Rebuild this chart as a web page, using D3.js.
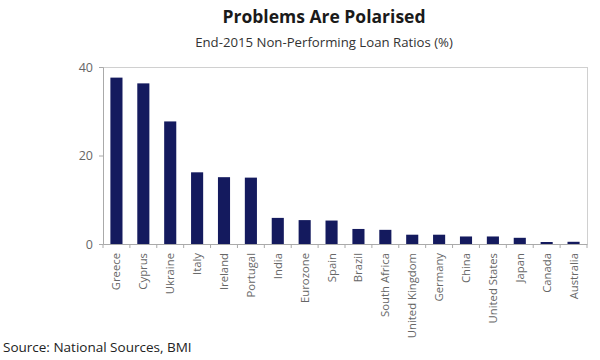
<!DOCTYPE html>
<html><head><meta charset="utf-8">
<script src="https://cdn.jsdelivr.net/npm/d3@7"></script>
<style>body{margin:0;background:#fff;} text{font-family:"Open Sans",sans-serif;}</style>
</head><body>
<svg id="c" width="600" height="360"></svg>
<script>
const categories = ["Greece","Cyprus","Ukraine","Italy","Ireland","Portugal","India","Eurozone","Spain","Brazil","South Africa","United Kingdom","Germany","China","United States","Japan","Canada","Australia"];
const values = [37.6,36.3,27.7,16.2,15.1,15.0,5.9,5.4,5.3,3.4,3.2,2.1,2.1,1.7,1.7,1.4,0.45,0.5];
const yTicks = [0,20,40];
const title = "Problems Are Polarised";
const subtitle = "End-2015 Non-Performing Loan Ratios (%)";
const source = "Source: National Sources, BMI";

const svg = d3.select("#c");
const L=103, R=587, T=67, B=244;
const x = d3.scaleBand().domain(categories).range([L,R]).paddingInner(0.55).paddingOuter(0.275);
const y = d3.scaleLinear().domain([0,40]).range([B,T]);

svg.append("text").attr("x",324).attr("y",23).attr("text-anchor","middle")
  .attr("font-size",17.5).attr("font-weight","bold").attr("fill","#1a1a1a").text(title);
svg.append("text").attr("x",324).attr("y",47).attr("text-anchor","middle")
  .attr("font-size",13.2).attr("fill","#333").text(subtitle);

// frame
svg.append("line").attr("x1",L).attr("x2",R).attr("y1",T+0.5).attr("y2",T+0.5).attr("stroke","#d0d0d0");
svg.append("line").attr("x1",R+0.5).attr("x2",R+0.5).attr("y1",T).attr("y2",B).attr("stroke","#d0d0d0");

svg.append("g").selectAll("rect").data(values).join("rect")
  .attr("x",(d,i)=>x(categories[i])).attr("width",x.bandwidth())
  .attr("y",d=>y(d)).attr("height",d=>B-y(d)).attr("fill","#141a5e");

const ya = svg.append("g").attr("transform",`translate(${L},0)`)
  .call(d3.axisLeft(y).tickValues(yTicks).tickSize(4).tickPadding(6));
ya.select(".domain").attr("stroke","#aaa");
ya.selectAll(".tick line").attr("stroke","#aaa");
ya.selectAll(".tick text").attr("font-size",12.5).attr("fill","#666").attr("font-family","'Open Sans',sans-serif");

const xa = svg.append("g").attr("transform",`translate(0,${B})`)
  .call(d3.axisBottom(x).tickSize(0).tickPadding(0));
xa.select(".domain").attr("stroke","#aaa");
xa.selectAll(".tick text").attr("font-size",11.3).attr("fill","#666").attr("font-family","'Open Sans',sans-serif")
  .attr("transform","rotate(-90)").attr("text-anchor","end").attr("dy","0.35em").attr("x",-9).attr("y",0);
// tick marks at band boundaries
const bounds = categories.map(c=>x(c)-x.step()*x.paddingInner()/2).concat([R]);
svg.append("g").selectAll("line").data(bounds).join("line")
  .attr("x1",d=>d).attr("x2",d=>d).attr("y1",B).attr("y2",B+4).attr("stroke","#aaa");

svg.append("text").attr("x",3).attr("y",352).attr("font-size",13.5).attr("fill","#222").text(source);
</script>
</body></html>
